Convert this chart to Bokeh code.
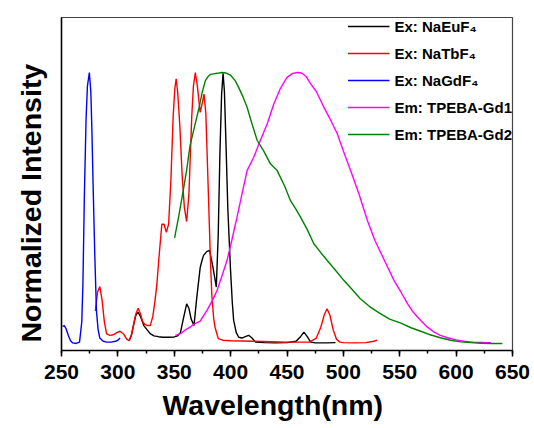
from bokeh.plotting import figure
from bokeh.models import Range1d, SingleIntervalTicker, FixedTicker, Legend, LegendItem, Title
from bokeh.embed import file_html
from bokeh.resources import INLINE

# ---------------- data ----------------
eu_wl = [310, 312, 314, 316, 318, 320, 323, 326, 329, 332, 336, 340, 345, 350, 353, 355.5, 358, 361, 363, 365,
         367.5, 370, 373, 374.6, 376, 379, 381.4, 384.4, 387.3, 389, 390.5, 392, 393.3, 394.5, 396, 397.5, 399.8,
         401.5, 402.7, 405, 407.2, 410, 413, 416, 419, 422, 430, 440, 450, 458, 462, 465, 468, 471, 475, 485, 493]
eu_int = [0.01, 0.03, 0.07, 0.105, 0.115, 0.1, 0.066, 0.05, 0.035, 0.028, 0.025, 0.023, 0.023, 0.024, 0.028, 0.04,
          0.09, 0.146, 0.13, 0.09, 0.066, 0.17, 0.28, 0.306, 0.325, 0.34, 0.343, 0.28, 0.208, 0.4, 0.7, 0.92, 0.997,
          0.93, 0.72, 0.5, 0.28, 0.15, 0.085, 0.04, 0.023, 0.02, 0.025, 0.03, 0.02, 0.005, 0.003, 0.002, 0.003,
          0.008, 0.025, 0.042, 0.025, 0.005, 0.002, 0.002, 0.003]

tb_wl = [280, 282, 284, 286, 288, 290, 293, 296, 299, 302, 305, 308, 310, 312, 314, 316, 318, 320, 322, 324, 326,
         328.7, 331, 333, 334.6, 336.5, 339, 341, 343, 345, 347, 349, 350.5, 351.7, 353, 355, 357, 359, 361, 363,
         365.5, 367, 368.7, 370.5, 373, 375, 376.4, 378, 380.3, 382, 383.3, 385, 386.2, 389, 393, 400, 420, 450,
         470, 476, 480, 483, 485.5, 488, 491, 494, 497, 500, 510, 520, 527, 530]
tb_int = [0.12, 0.19, 0.21, 0.16, 0.08, 0.035, 0.03, 0.032, 0.04, 0.045, 0.035, 0.015, 0.01, 0.03, 0.07, 0.11, 0.13,
          0.11, 0.08, 0.07, 0.066, 0.066, 0.1, 0.16, 0.22, 0.32, 0.44, 0.44, 0.41, 0.44, 0.6, 0.835, 0.94, 0.977,
          0.93, 0.8, 0.62, 0.5, 0.45, 0.55, 0.835, 0.95, 1.0, 0.95, 0.853, 0.89, 0.92, 0.85, 0.55, 0.32, 0.18, 0.09,
          0.06, 0.018, 0.012, 0.01, 0.008, 0.005, 0.005, 0.02, 0.06, 0.105, 0.128, 0.105, 0.05, 0.015, 0.005,
          0.003, 0.002, 0.003, 0.008, 0.012]

gd_wl = [251, 252.5, 254, 256, 258, 260, 263, 266, 268, 269, 270.3, 271.8, 273, 274.7, 276, 277, 278, 279.5, 281,
         282.5, 284, 287, 290, 294, 298, 300, 302]
gd_int = [0.063, 0.066, 0.055, 0.03, 0.01, 0.002, 0.0, 0.005, 0.08, 0.22, 0.55, 0.83, 0.95, 1.0, 0.93, 0.78, 0.59,
          0.33, 0.12, 0.05, 0.02, 0.008, 0.005, 0.005, 0.008, 0.012, 0.02]

gd1_wl = [351, 355.5, 360, 364, 367, 373, 379, 384, 388, 392, 396.8, 401, 405.7, 410, 414.6, 420.5, 426.4, 432.4,
          438.3, 444, 450, 455, 459.3, 463, 467, 471, 476, 482.7, 488, 494.6, 500, 506.4, 514, 521.3, 528, 536,
          545, 551, 557, 562, 568.6, 574, 580.5, 586, 592.4, 600, 607, 615, 622, 628, 631]
gd1_int = [0.03, 0.036, 0.05, 0.06, 0.07, 0.082, 0.122, 0.16, 0.196, 0.245, 0.306, 0.38, 0.466, 0.55, 0.638, 0.687,
           0.75, 0.81, 0.884, 0.94, 0.982, 0.997, 1.0, 0.998, 0.985, 0.958, 0.93, 0.872, 0.83, 0.774, 0.71, 0.638,
           0.55, 0.454, 0.38, 0.31, 0.232, 0.19, 0.146, 0.115, 0.085, 0.062, 0.042, 0.03, 0.021, 0.013, 0.008,
           0.005, 0.004, 0.003, 0.003]

gd2_wl = [350.3, 354, 358, 361, 364, 368, 372, 375, 377.6, 380, 382, 385, 388, 392, 396, 400, 404, 407, 411, 414.6,
          419, 423.5, 429.4, 435.3, 441.3, 448, 453, 458, 462, 468, 473.8, 480, 485.7, 493, 500.5, 508, 515, 523,
          531, 541, 551, 560, 568.6, 577, 586, 595, 604, 613, 622, 632, 641]
gd2_int = [0.39, 0.47, 0.565, 0.64, 0.73, 0.8, 0.87, 0.93, 0.97, 0.985, 0.993, 0.995, 0.997, 1.0, 0.998, 0.99, 0.97,
           0.946, 0.91, 0.872, 0.81, 0.75, 0.71, 0.663, 0.638, 0.58, 0.528, 0.495, 0.466, 0.42, 0.368, 0.335, 0.306,
           0.27, 0.232, 0.198, 0.165, 0.137, 0.115, 0.09, 0.075, 0.058, 0.045, 0.032, 0.021, 0.012, 0.006, 0.003,
           0.001, 0.0, 0.0]

series = [
    ("Ex: NaEuF\u2084", eu_wl, eu_int, "#000000"),
    ("Ex: NaTbF\u2084", tb_wl, tb_int, "#ff0000"),
    ("Ex: NaGdF\u2084", gd_wl, gd_int, "#0000ff"),
    ("Em: TPEBA-Gd1", gd1_wl, gd1_int, "#ff00ff"),
    ("Em: TPEBA-Gd2", gd2_wl, gd2_int, "#008000"),
]

x_label = "Wavelength(nm)"
y_label = "Normalized Intensity"
x_ticks_interval = 50
FONT = "Liberation Sans"

# ---------------- figure ----------------
p = figure(width=534, height=428, output_backend="svg", toolbar_location=None,
           x_range=Range1d(250, 650), y_range=Range1d(-0.026, 1.203),
           min_border_left=61, min_border_right=22, min_border_top=17, min_border_bottom=78)
p.background_fill_color = "white"
p.border_fill_color = "white"
p.outline_line_color = "#444444"
p.outline_line_width = 1.2
p.xgrid.visible = False
p.ygrid.visible = False

items = []
for name, xs, ys, col in series:
    r = p.line(xs, ys, line_color=col, line_width=1.4)
    items.append(LegendItem(label=name, renderers=[r]))

# x axis
xa = p.xaxis[0]
xa.ticker = SingleIntervalTicker(interval=x_ticks_interval, num_minor_ticks=2)
xa.major_label_text_font = FONT
xa.major_label_text_font_style = "bold"
xa.major_label_text_font_size = "21px"
xa.major_label_text_color = "black"
xa.major_label_standoff = 8
xa.axis_line_width = 1.5
xa.axis_line_color = "black"
xa.major_tick_in = 0
xa.major_tick_out = 6
xa.major_tick_line_width = 1.5
xa.minor_tick_in = 0
xa.minor_tick_out = 3
xa.minor_tick_line_width = 1.5

# y axis (no ticks, no tick labels)
ya = p.yaxis[0]
ya.ticker = FixedTicker(ticks=[])
ya.major_tick_line_color = None
ya.minor_tick_line_color = None
ya.axis_line_width = 1.5
ya.axis_line_color = "black"

# axis titles, placed off-centre like the reference
xt = Title(text=x_label, align="left", offset=101, standoff=11, vertical_align="bottom",
           text_font=FONT, text_font_style="bold", text_font_size="28.5px", text_color="black")
p.add_layout(xt, "below")
yt = Title(text=y_label, align="left", offset=8, standoff=25, vertical_align="top",
           text_font=FONT, text_font_style="bold", text_font_size="28.5px", text_color="black")
p.add_layout(yt, "left")

legend = Legend(items=items, location="top_right")
legend.border_line_color = None
legend.background_fill_alpha = 0
legend.margin = 0
legend.padding = 0
legend.spacing = 9
legend.glyph_width = 42
legend.glyph_height = 18
legend.label_height = 18
legend.label_standoff = 5
legend.label_text_font = FONT
legend.label_text_font_style = "bold"
legend.label_text_font_size = "15px"
legend.label_text_color = "black"
p.add_layout(legend)

open("out.html", "w").write(file_html(p, INLINE))
